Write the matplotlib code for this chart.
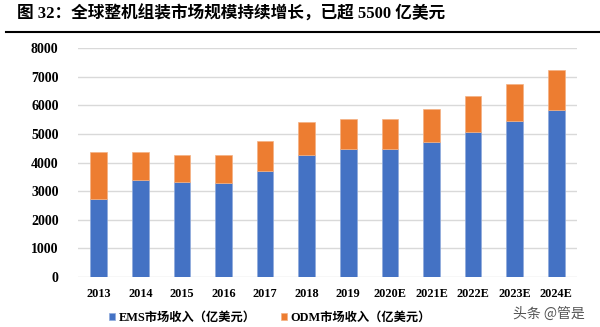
import matplotlib
matplotlib.use("Agg")
import matplotlib.pyplot as plt
import numpy as np

years = ["2013", "2014", "2015", "2016", "2017", "2018", "2019",
         "2020E", "2021E", "2022E", "2023E", "2024E"]
ems = [2710, 3380, 3330, 3270, 3700, 4260, 4460, 4460, 4720, 5060, 5440, 5830]
total = [4380, 4360, 4260, 4260, 4770, 5430, 5540, 5540, 5890, 6320, 6760, 7250]
odm = [t - e for t, e in zip(total, ems)]

blue = "#4472C4"
orange = "#ED7D31"
serif_cjk = ["Liberation Serif", "Noto Sans CJK SC"]

fig = plt.figure(figsize=(6, 3.27), dpi=100)
ax = fig.add_axes([0.13, 0.1538, 0.8317, 0.6985])

x = np.arange(len(years))
ax.bar(x, ems, width=0.4, color=blue, edgecolor="#8FAADC", linewidth=0.5,
       label="EMS市场收入（亿美元）", zorder=3)
ax.bar(x, odm, width=0.4, bottom=ems, color=orange, edgecolor="#F4B183",
       linewidth=0.5, label="ODM市场收入（亿美元）", zorder=3)

ax.set_xlim(-0.5, len(years) - 0.5)
ax.set_ylim(0, 8000)
ax.set_yticks(range(0, 8001, 1000))
ax.yaxis.grid(True, color="#D9D9D9", linewidth=1, zorder=0)
for s in ax.spines.values():
    s.set_visible(False)
ax.tick_params(length=0)
ax.tick_params(axis="y", pad=14)
ax.tick_params(axis="x", pad=8)
ax.set_xticks(x)
ax.set_xticklabels(years)
for lab in ax.get_yticklabels():
    lab.set_fontfamily("Liberation Serif")
    lab.set_fontweight("bold")
    lab.set_fontsize(10)
for lab in ax.get_xticklabels():
    lab.set_fontfamily("Liberation Serif")
    lab.set_fontweight("bold")
    lab.set_fontsize(8.8)

leg = fig.legend(loc="center", bbox_to_anchor=(0.45, 0.028), ncol=2,
                 frameon=False, handlelength=0.5, handleheight=0.5,
                 handletextpad=0.3, columnspacing=2.0,
                 prop={"family": serif_cjk, "size": 8.8, "weight": "bold"})

fig.text(0.028, 0.957, "图 32：全球整机组装市场规模持续增长，已超 5500 亿美元",
         fontsize=12, fontweight="bold", family=serif_cjk, va="center")
fig.add_artist(plt.Line2D([0.01, 1.0], [0.903, 0.903], color="black",
                          linewidth=1.5, transform=fig.transFigure))

fig.text(0.855, 0.04, "头条 @管是", fontsize=10, color="#555555",
         family=["Noto Sans CJK SC", "DejaVu Sans"], va="center")

fig.savefig("out.png", dpi=100)
